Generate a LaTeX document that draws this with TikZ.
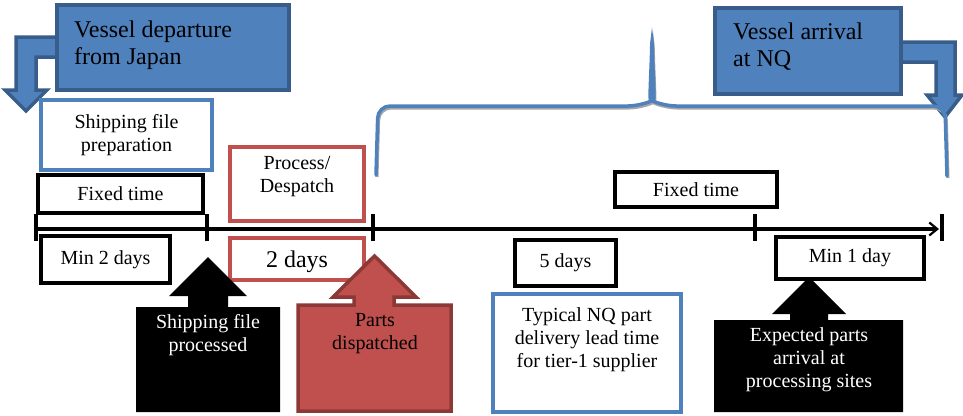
\documentclass[tikz,border=0pt]{standalone}
\usepackage{fontspec}
\setmainfont{Liberation Serif}
\usetikzlibrary{arrows.meta}
\definecolor{obl}{HTML}{4F81BD}
\definecolor{obd}{HTML}{385D8A}
\definecolor{ord}{HTML}{C0504D}
\definecolor{ordk}{HTML}{8C3836}
\begin{document}
\begin{tikzpicture}[x=1pt,y=-1pt,
  lbl/.style={font=\fontsize{20}{23}\selectfont, align=center, inner sep=0pt},
  bigl/.style={font=\fontsize{24}{27}\selectfont, align=left, inner sep=0pt},
  boxbase/.style={line width=3.6pt, inner sep=0pt, fill=white},
  blkbox/.style={boxbase, draw=black},
  redbox/.style={boxbase, draw=ord},
  bluebox/.style={boxbase, draw=obl},
  vbox/.style={line width=3.5pt, inner sep=0pt, draw=obd, fill=obl},
  varrow/.style={line width=3.5pt, draw=obd, fill=obl, line join=miter},
  tick/.style={line width=3.6pt},
  brace/.style={line width=3.5pt, draw=obl, line cap=round, rounded corners=12pt},
  braceshadow/.style={line width=3pt, draw=black!35, rounded corners=12pt}
]
\useasboundingbox (0,0) rectangle (963,415);

% bent arrows
\draw[varrow] (57,37) -- (16,37) -- (16,90) -- (5,90) -- (26,111) -- (47,90) -- (36,90) -- (36,57) -- (57,57);
\draw[varrow] (900,42) -- (955,42) -- (955,95) -- (962,95) -- (945,117) -- (927,95) -- (936,95) -- (936,62) -- (900,62);

% vessel boxes
\node[vbox, minimum width=232, minimum height=85] (vdep) at (173,47.5) {};
\node[bigl, anchor=west] (vdept) at (74,45) {Vessel departure\\from Japan};
\node[vbox, minimum width=186, minimum height=86] (varr) at (808,51) {};
\node[bigl, anchor=west] (varrt) at (733,47) {Vessel arrival\\at NQ};

% brace
\draw[braceshadow] (377,177) -- (379,108) -- (641,108) .. controls (650,104) and (652,80) .. (653,37)
   .. controls (654,80) and (656,104) .. (665,108) -- (946,108) -- (948,178);
\draw[brace] (376,175) -- (378,106) -- (640,106) .. controls (649,102) and (651,78) .. (652,35)
   .. controls (653,78) and (655,102) .. (664,106) -- (945,106) -- (947,176);

% upper boxes
\node[bluebox, lbl, minimum width=171, minimum height=70] (prep) at (126.5,135) {Shipping file\\preparation};
\node[redbox, minimum width=134, minimum height=74] (proc) at (297,184) {};
\node[lbl] (proct) at (297,177) {Process/\\Despatch};
\node[blkbox, lbl, minimum width=165, minimum height=38] (fixA) at (120.5,194) {Fixed time};
\node[blkbox, lbl, minimum width=162, minimum height=35] (fixB) at (696,189.5) {Fixed time};

% timeline
\coordinate (t0) at (36,229);
\coordinate (t1) at (207,229);
\coordinate (t2) at (373,229);
\coordinate (t3) at (755,229);
\coordinate (t4) at (942,229);
\coordinate (tend) at (939,229);
\draw[line width=3.6pt, -{Straight Barb[length=8pt,width=13pt,line width=2.2pt]}] (t0) -- (tend);
\foreach \t in {t0,t1,t2,t3,t4}{
  \draw[tick] ([yshift=-12pt]\t) -- ([yshift=15pt]\t);
}

% lower boxes
\node[blkbox, lbl, minimum width=129, minimum height=47] (min2) at (105.5,259.5) {Min 2 days};
\node[redbox, minimum width=134, minimum height=42] (two) at (297,259) {};
\node[font=\fontsize{24}{27}\selectfont, inner sep=0pt] (twot) at (297,262) {2 days};
\node[blkbox, lbl, minimum width=101, minimum height=46] (five) at (565.5,263) {5 days};
\node[blkbox, lbl, minimum width=148, minimum height=42] (min1) at (850,258) {Min 1 day};
\node[bluebox, minimum width=188, minimum height=118] (typ) at (587,353) {};
\node[lbl] (typt) at (587,340) {Typical NQ part\\delivery lead time\\for tier-1 supplier};

% up-arrow callouts
\fill[black] (136,412) -- (136,307) -- (188,307) -- (188,296) -- (169,296) -- (208,257) -- (247,296) -- (228,296) -- (228,307) -- (280,307) -- (280,412) -- cycle;
\node[lbl, text=white] (sfp) at (208,335) {Shipping file\\processed};

\draw[line width=3.5pt, draw=ordk, fill=ord, line join=miter] (298,411) -- (298,305) -- (354,305) -- (354,297) -- (333,297) -- (374.5,256) -- (416,297) -- (394,297) -- (394,305) -- (451,305) -- (451,411) -- cycle;
\node[lbl] (pd) at (375,333.5) {Parts\\dispatched};

\fill[black] (714,412) -- (714,320) -- (790,320) -- (790,314) -- (772,314) -- (809,277) -- (846,314) -- (828,314) -- (828,320) -- (903,320) -- (903,412) -- cycle;
\node[lbl, text=white] (epa) at (809,360) {Expected parts\\arrival at\\processing sites};
\end{tikzpicture}
\end{document}
